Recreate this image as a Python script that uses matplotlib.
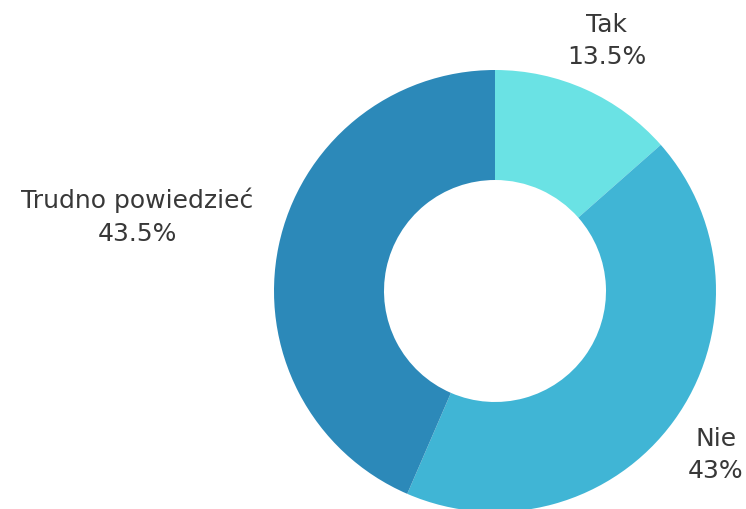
import matplotlib
matplotlib.use("Agg")
import matplotlib.pyplot as plt

# odpowiedzi i udzialy procentowe
labels = ["Tak", "Nie", "Trudno powiedzieć"]
values = [13.5, 43, 43.5]
colors = ["#6AE2E4", "#40B5D5", "#2C89B9"]

# polozenie opisow (w pikselach obrazka)
label_pos = [(607, 41), (716, 455), (137, 217)]

plt.rcParams['font.family'] = ['DejaVu Sans']

fig = plt.figure(figsize=(7.46, 5.09), dpi=100)
ax = fig.add_axes([0, 0, 1, 1])
ax.set_xlim(0, 746)
ax.set_ylim(0, 509)
ax.set_aspect('equal')
ax.axis('off')

ax.pie(values, colors=colors, startangle=90, counterclock=False,
       center=(495, 509 - 291), radius=221,
       wedgeprops=dict(width=110, linewidth=0))

for lab, v, (x, y) in zip(labels, values, label_pos):
    txt = "%s\n%g%%" % (lab, v)
    ax.text(x, 509 - y, txt, ha='center', va='center', fontsize=18,
            color='#383838', linespacing=1.45)

ax.set_xlim(0, 746)
ax.set_ylim(0, 509)
fig.savefig("out.png", dpi=100)
